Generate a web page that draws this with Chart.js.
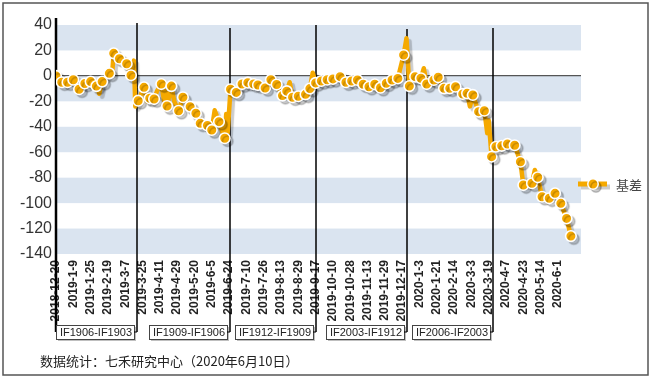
<!DOCTYPE html>
<html>
<head>
<meta charset="utf-8">
<script src="https://cdn.jsdelivr.net/npm/chart.js@4/dist/chart.umd.min.js"></script>
<style>
  html, body { margin: 0; padding: 0; background: #fff; }
</style>
</head>
<body>
<canvas id="basis" width="655" height="379"></canvas>
<script>
// x axis is trading-day index, labels every 12 days
var tickLabels = ["2018-12-20", "2019-1-9", "2019-1-25", "2019-2-19", "2019-3-7", "2019-3-25",
  "2019-4-11", "2019-4-29", "2019-5-20", "2019-6-5", "2019-6-24", "2019-7-10", "2019-7-26",
  "2019-8-13", "2019-8-29", "2019-9-17", "2019-10-10", "2019-10-28", "2019-11-13", "2019-11-29",
  "2019-12-17", "2020-1-3", "2020-1-21", "2020-2-14", "2020-3-3", "2020-3-19", "2020-4-7",
  "2020-4-23", "2020-5-14", "2020-6-1"];
var tickDays = [0, 12, 24, 36, 48, 60, 72, 84, 96, 108, 120, 132, 144, 156, 168, 180, 192, 204,
  216, 228, 240, 252, 264, 276, 288, 300, 312, 324, 336, 348];

// basis series (day index, value)
var days = [0, 4, 8, 12, 16, 20, 24, 28, 30, 32, 37, 39, 40, 44, 49, 52, 54, 55, 57,
  61, 63, 65, 68, 70, 73, 75, 76, 77, 80, 82, 85, 88, 93, 97, 100, 105, 108, 110, 113, 115, 117, 118, 119,
  121, 125, 129, 133, 137, 140, 145, 149, 153, 157, 160, 162, 164, 168, 173, 176, 178, 180,
  184, 188, 192, 197, 201, 205, 209, 213, 217, 221, 225, 229, 233, 237, 241, 243,
  245, 249, 253, 255, 257, 262, 265, 269, 273, 277, 282, 285, 287, 289, 293, 297, 299, 300, 302,
  305, 309, 313, 318, 322, 324, 330, 332, 334, 337, 342, 346, 350, 354, 357];
var basis = [0, -5, -5, -3, -10.5, -6, -4.5, -8, -14, -4.5, 2, 3, 17.7, 13.5, 9.5, 0.5, 12, -24, -19.5,
  -9, -20, -17.6, -18.2, -12, -6.4, -20, -12, -23.7, -8, -20, -27.4, -16.8, -24.2, -29.4, -37.3, -39, -42.5, -27, -36, -43, -49, -30, -45,
  -10.5, -13, -6.4, -5.3, -6.4, -7.2, -9.5, -3, -6.8, -15.5, -12, -5, -16.8, -16, -14.5, -10, 2.5, -5.5,
  -4, -3, -2.4, -0.6, -5, -4, -3.2, -6.6, -8.5, -6.6, -9.3, -5.8, -3.2, -2, 16.4, 29.6,
  -8, -0.6, -1.9, 6, -6.4, -3.2, -1.1, -9.8, -9.8, -8.5, -14.2, -13.7, -24, -15, -28.1, -27.4, -45, -35, -63.5,
  -55.7, -55, -53.5, -54.5, -67.5, -85.8, -84.4, -74, -79.7, -95, -96.2, -92.3, -100.2, -112, -125.9];
// vertices of the line that carry no dot
var lineOnly = [30, 39, 54, 55, 63, 70, 75, 76, 82, 110, 115, 118, 119, 162, 178, 243, 255, 287, 299, 300, 332];

// contract roll dividers and their boxes
var rollDays = [0, 56, 120.7, 180.5, 243.4, 303];
var rollLabels = ["IF1906-IF1903", "IF1909-IF1906", "IF1912-IF1909", "IF2003-IF1912", "IF2006-IF2003"];

var bands = [[20, 40], [-20, 0], [-60, -40], [-100, -80], [-140, -120]];

var ORANGE = "#F5A900";

var points = days.map(function(d, i) { return { x: d, y: basis[i] }; });

var decor = {
  id: "decor",
  beforeDraw: function(chart) {
    var c = chart.ctx, a = chart.chartArea, y = chart.scales.y;
    c.save();
    c.fillStyle = "#fff";
    c.fillRect(0, 0, chart.width, chart.height);
    c.fillStyle = "#DAE4F0";
    bands.forEach(function(b) {
      var top = y.getPixelForValue(b[1]), bot = y.getPixelForValue(b[0]);
      c.fillRect(a.left, top, a.right - a.left, bot - top);
    });
    c.strokeStyle = "#555";
    c.lineWidth = 1.5;
    c.strokeRect(3, 3, 645, 372);
    c.restore();
  },
  beforeDatasetsDraw: function(chart) {
    var c = chart.ctx, x = chart.scales.x;
    var tops = [18, 23, 28, 25, 29, 28];
    c.save();
    c.strokeStyle = "#000";
    rollDays.forEach(function(d, i) {
      var px = Math.round(x.getPixelForValue(d));
      c.lineWidth = i === 0 ? 2.5 : 1.5;
      c.beginPath();
      c.moveTo(px, tops[i]);
      c.lineTo(px, 332);
      c.stroke();
    });
    // label boxes
    c.font = "11px 'Liberation Sans', Arial, sans-serif";
    c.textAlign = "center";
    c.textBaseline = "middle";
    for (var i = 1; i < rollDays.length; i++) {
      var px = Math.round(x.getPixelForValue(rollDays[i]));
      var right = px - 3, left = i === 1 ? Math.round(x.getPixelForValue(0)) : right - 78;
      c.fillStyle = "rgba(0,0,0,0.25)";
      c.fillRect(left + 2, 327, right - left, 14);
      c.fillStyle = "#fff";
      c.fillRect(left, 325, right - left, 14);
      c.strokeStyle = "#444";
      c.lineWidth = 1;
      c.strokeRect(left + 0.5, 325.5, right - left, 14);
      c.strokeStyle = "#000";
      c.beginPath();
      c.moveTo(right, 332);
      c.lineTo(px, 332);
      c.stroke();
      c.fillStyle = "#222";
      c.fillText(rollLabels[i - 1], (left + right) / 2 + 1, 332.5);
    }
    // footer
    c.font = "13px 'Noto Sans CJK SC', sans-serif";
    c.textAlign = "left";
    c.fillStyle = "#222";
    c.fillText("数据统计：七禾研究中心（2020年6月10日）", 40, 361);
    c.restore();

    c.save();
    c.shadowColor = "rgba(0,0,0,0.2)";
    c.shadowOffsetX = 3;
    c.shadowOffsetY = 3;
    c.shadowBlur = 1;
  },
  afterDatasetsDraw: function(chart) {
    var c = chart.ctx;
    c.restore();
    // legend
    c.save();
    c.shadowColor = "rgba(0,0,0,0.2)";
    c.shadowOffsetX = 3;
    c.shadowOffsetY = 3;
    c.strokeStyle = ORANGE;
    c.lineWidth = 5;
    c.beginPath();
    c.moveTo(578, 184);
    c.lineTo(607, 184);
    c.stroke();
    c.fillStyle = ORANGE;
    c.strokeStyle = "#fff";
    c.lineWidth = 1.5;
    c.beginPath();
    c.arc(593, 184, 5.2, 0, Math.PI * 2);
    c.fill();
    c.stroke();
    c.restore();
    c.save();
    c.font = "13px 'Noto Sans CJK SC', sans-serif";
    c.fillStyle = "#444";
    c.textBaseline = "middle";
    c.fillText("基差", 616, 185);
    c.restore();
  }
};

var chart = new Chart(document.getElementById("basis").getContext("2d"), {
  type: "line",
  data: {
    datasets: [{
      label: "基差",
      data: points,
      borderColor: ORANGE,
      borderWidth: 4.5,
      borderJoinStyle: "round",
      borderCapStyle: "round",
      backgroundColor: ORANGE,
      pointBackgroundColor: ORANGE,
      pointBorderColor: "#fff",
      pointBorderWidth: 1.6,
      pointRadius: function(ctx) {
        return lineOnly.indexOf(days[ctx.dataIndex]) >= 0 ? 0 : 5.3;
      },
      tension: 0
    }]
  },
  options: {
    responsive: false,
    animation: false,
    devicePixelRatio: 1,
    layout: { padding: { left: 0, top: 25, right: 74, bottom: 55 } },
    plugins: { legend: { display: false }, tooltip: { enabled: false } },
    scales: {
      x: {
        type: "linear",
        min: 0,
        max: 364,
        afterBuildTicks: function(scale) {
          scale.ticks = tickDays.map(function(v) { return { value: v }; });
        },
        afterFit: function(scale) { scale.height = 70; },
        grid: { display: false, drawTicks: false },
        border: { display: false },
        ticks: {
          autoSkip: false,
          maxRotation: 90,
          minRotation: 90,
          padding: 6,
          color: "#222",
          font: { family: "'Liberation Sans', Arial, sans-serif", size: 12, weight: "bold" },
          callback: function(value, index) { return tickLabels[index]; }
        }
      },
      y: {
        min: -140,
        max: 40,
        afterFit: function(scale) { scale.width = 56; },
        grid: {
          drawTicks: false,
          color: function(ctx) { return ctx.tick && ctx.tick.value === 0 ? "#555" : "rgba(0,0,0,0)"; },
          lineWidth: 1.2
        },
        border: { display: false },
        ticks: {
          stepSize: 20,
          padding: 4,
          color: "#333",
          font: { family: "'Liberation Sans', Arial, sans-serif", size: 16 }
        }
      }
    }
  },
  plugins: [decor]
});
</script>
</body>
</html>
